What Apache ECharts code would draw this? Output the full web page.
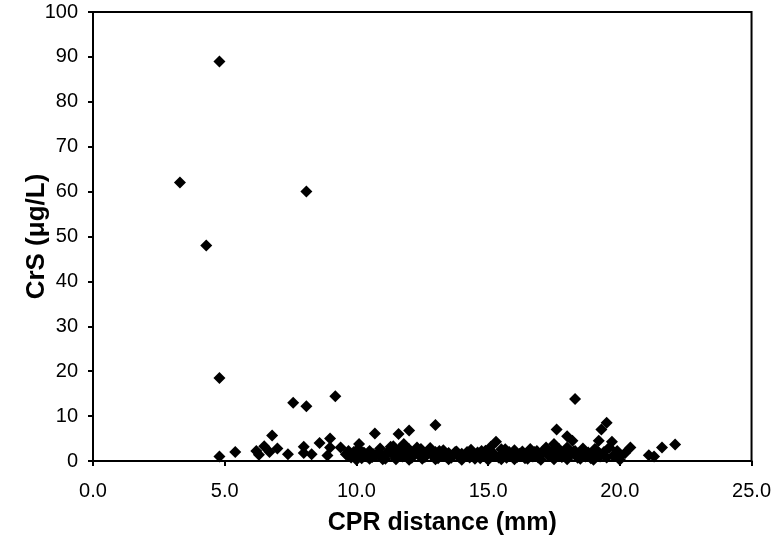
<!DOCTYPE html>
<html>
<head>
<meta charset="utf-8">
<script src="https://cdn.jsdelivr.net/npm/echarts@6/dist/echarts.min.js"></script>
<style>
  html, body { margin: 0; padding: 0; background: #fff; }
  #main { width: 774px; height: 541px; }
</style>
</head>
<body>
<div id="main"></div>
<script>
// CPR distance (mm) and CrS (ug/L)
var cprDistance = [
    3.3, 4.3, 4.8, 8.1, 4.8, 7.6, 8.1, 9.2, 18.3, 13.0,
    6.8, 9.0, 10.7, 11.6, 12.0, 17.6, 18.0, 18.2, 19.3, 19.5,
    19.2, 19.7, 15.3, 20.4, 21.1, 21.3, 21.6, 22.1, 4.8, 5.4,
    6.2, 6.5, 6.7, 7.4, 8.0, 8.0, 8.3, 8.6, 9.0, 9.4,
    9.7, 10.1, 11.4,
    9.6, 9.8, 9.9, 10.0, 10.1, 10.2, 10.3, 10.4, 10.5, 10.6,
    10.8, 10.9, 11.0, 11.1, 11.2, 11.3, 11.4, 11.5, 11.6, 11.7,
    11.8, 11.9, 12.0, 12.1, 12.2, 12.3, 12.4, 12.5, 12.6, 12.7,
    12.8, 12.9, 13.0, 13.1, 13.2, 13.3, 13.4, 13.5, 13.6, 13.7,
    13.8, 13.9, 14.0, 14.1, 14.2, 14.3, 14.4, 14.5, 14.6, 14.7,
    14.8, 14.9, 15.0, 15.1, 15.2, 15.4, 15.5, 15.6, 15.7, 15.8,
    15.9, 16.0, 16.1, 16.2, 16.3, 16.4, 16.5, 16.6, 16.7, 16.8,
    16.9, 17.0, 17.1, 17.2, 17.3, 17.4, 17.5, 17.6, 17.7, 17.8,
    17.9, 18.0, 18.1, 18.3, 18.4, 18.5, 18.6, 18.7, 18.8, 18.9,
    19.0, 19.1, 19.2, 19.4, 19.5, 19.6, 19.8, 19.9, 20.0, 20.2,
    10.0, 11.0, 12.0, 13.0, 14.0, 15.0, 16.0, 17.0, 18.0, 19.0,
    20.0, 10.5, 11.5, 12.5, 13.5, 14.5, 15.5, 16.5, 17.5, 18.5,
    9.7, 10.25, 10.75, 11.25, 11.75, 12.25, 12.75, 13.25, 13.75, 14.25,
    14.75, 15.25, 15.75, 16.25, 16.75, 17.25, 17.75, 18.25, 18.75, 19.25,
    10.05, 10.65, 11.35, 11.85, 12.45, 13.15, 13.65, 14.35, 14.95, 15.65,
    16.15, 16.85, 17.35, 17.95, 18.55, 19.05, 19.75, 6.3, 7.0, 8.9
];
var crsLevel = [
    62, 48, 89, 60, 18.5, 13, 12.2, 14.4, 13.8, 8.0,
    5.7, 5.0, 6.1, 6.0, 6.8, 7.0, 5.5, 4.5, 7.0, 8.5,
    4.5, 4.3, 4.3, 3.0, 1.3, 1.0, 3.0, 3.7, 1.0, 2.0,
    2.2, 3.3, 2.0, 1.5, 3.2, 1.8, 1.5, 4.0, 3.0, 3.0,
    2.2, 3.8, 3.3,
    1.5, 0.8, 2.0, 1.2, 2.5, 0.6, 1.8, 1.0, 2.2, 0.9,
    1.6, 2.8, 1.1, 0.5, 2.0, 3.2, 1.4, 0.8, 2.5, 1.9,
    3.8, 1.2, 2.6, 0.7, 1.8, 3.0, 1.3, 2.2, 0.9, 1.7,
    2.9, 1.1, 2.0, 0.6, 1.5, 2.4, 1.0, 1.8, 0.7, 1.4,
    2.1, 0.9, 1.6, 1.2, 2.0, 0.8, 1.5, 1.1, 1.9, 0.6,
    1.3, 2.3, 1.0, 3.2, 1.7, 0.8, 2.6, 1.4, 0.7, 2.0,
    1.2, 2.4, 0.9, 1.6, 2.1, 0.6, 1.3, 2.7, 1.0, 1.8,
    0.8, 1.5, 2.3, 3.0, 1.1, 2.0, 3.8, 1.4, 2.6, 0.9,
    1.7, 3.0, 1.2, 2.2, 0.7, 1.5, 2.8, 1.0, 1.9, 0.6,
    1.4, 2.5, 1.1, 2.0, 0.8, 3.0, 1.5, 2.2, 0.9, 1.8,
    0.3, 0.4, 0.3, 0.4, 0.3, 0.3, 0.4, 0.3, 0.4, 0.3,
    0.3, 0.5, 0.4, 0.5, 0.4, 0.5, 0.4, 0.5, 0.4, 0.5,
    1.1, 1.9, 1.3, 2.1, 1.0, 1.7, 2.3, 1.2, 2.0, 1.4,
    2.2, 1.1, 1.8, 1.3, 2.0, 1.6, 1.2, 2.1, 1.5, 1.0,
    2.6, 1.5, 2.4, 1.6, 2.7, 2.2, 1.3, 2.5, 1.8, 2.6,
    1.4, 2.2, 1.6, 2.4, 1.9, 2.7, 1.1, 1.4, 2.8, 1.2
];
var xTicks = { min: 0, max: 25, interval: 5 };
var yTicks = { min: 0, max: 100, interval: 10 };

var points = cprDistance.map(function(x, i) {
    return [x, crsLevel[i]];
});

var myChart = echarts.init(document.getElementById('main'));

var labelFont = 'Liberation Sans, Arial, sans-serif';

var option = {
    animation: false,
    backgroundColor: '#fff',
    grid: {
        left: 93,
        right: 22,
        top: 12,
        bottom: 79,
        show: true,
        borderColor: '#000',
        borderWidth: 2
    },
    xAxis: {
        type: 'value',
        min: xTicks.min,
        max: xTicks.max,
        interval: xTicks.interval,
        name: 'CPR distance (mm)',
        nameLocation: 'middle',
        nameGap: 50,
        nameMoveOverlap: false,
        nameTextStyle: {
            color: '#000',
            fontFamily: labelFont,
            fontWeight: 'bold',
            fontSize: 25,
            padding: [0, 0, 0, 40]
        },
        axisLine: { lineStyle: { color: '#000', width: 2 } },
        axisTick: { show: true, length: 5, lineStyle: { color: '#000', width: 2 } },
        axisLabel: {
            color: '#000',
            fontFamily: labelFont,
            fontSize: 20,
            margin: 20,
            formatter: function(v) { return v.toFixed(1); }
        },
        splitLine: { show: false }
    },
    yAxis: {
        type: 'value',
        min: yTicks.min,
        max: yTicks.max,
        interval: yTicks.interval,
        name: 'CrS (μg/L)',
        nameLocation: 'middle',
        nameGap: 43,
        nameMoveOverlap: false,
        nameTextStyle: {
            color: '#000',
            fontFamily: labelFont,
            fontWeight: 'bold',
            fontSize: 26
        },
        axisLine: { lineStyle: { color: '#000', width: 2 } },
        axisTick: { show: true, length: 5, lineStyle: { color: '#000', width: 2 } },
        axisLabel: {
            color: '#000',
            fontFamily: labelFont,
            fontSize: 20,
            margin: 15
        },
        splitLine: { show: false }
    },
    series: [{
        type: 'scatter',
        symbol: 'diamond',
        symbolSize: 12,
        itemStyle: { color: '#000', opacity: 1 },
        data: points
    }]
};

myChart.setOption(option);
</script>
</body>
</html>
